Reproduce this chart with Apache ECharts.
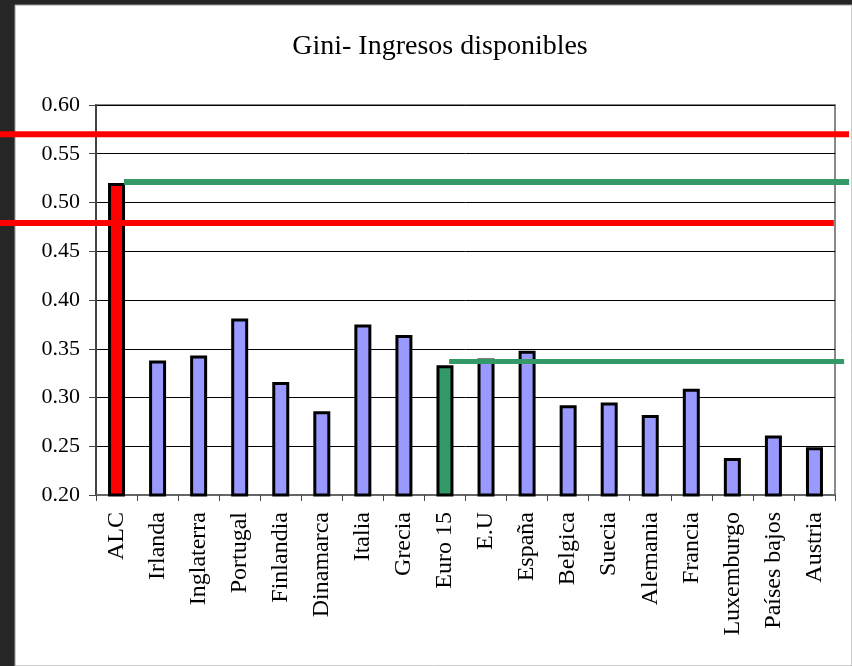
<!DOCTYPE html>
<html>
<head>
<meta charset="utf-8">
<script src="https://cdn.jsdelivr.net/npm/echarts@6/dist/echarts.min.js"></script>
<style>
html,body{margin:0;padding:0;background:#262626;}
#chart{width:852px;height:666px;}
</style>
</head>
<body>
<div id="chart"></div>
<script>
const categories = ['ALC','Irlanda','Inglaterra','Portugal','Finlandia','Dinamarca','Italia','Grecia','Euro 15','E.U','España','Belgica','Suecia','Alemania','Francia','Luxemburgo','Países bajos','Austria'];
const giniValues = [0.520,0.338,0.343,0.381,0.316,0.286,0.375,0.364,0.333,0.340,0.348,0.292,0.295,0.282,0.309,0.238,0.261,0.249];
const yTicks = {min:0.20, max:0.60, step:0.05};
// overlay reference lines: [categoryPosition, value]
const redUpper = [[-2.84,0.570],[17.84,0.570]];
const redLower = [[-2.84,0.479],[17.47,0.479]];
const greenUpper = [[0.18,0.521],[17.84,0.521]];
const greenLower = [[8.10,0.337],[17.72,0.337]];

const barColors = categories.map(c => c === 'ALC' ? '#ff0000' : (c === 'Euro 15' ? '#339966' : '#9999ff'));

const chart = echarts.init(document.getElementById('chart'));
const serif = '"Liberation Serif","Times New Roman",serif';
chart.setOption({
  backgroundColor:'#262626',
  animation:false,
  graphic:[{type:'rect', z:-10, shape:{x:15,y:5,width:837,height:661}, style:{fill:'#ffffff', stroke:'#9a9a9a', lineWidth:1}}],
  title:{text:'Gini- Ingresos disponibles', left:435, textAlign:'center', top:28,
    textStyle:{fontFamily:serif, fontSize:28, fontWeight:'normal', color:'#000'}},
  grid:[
    {left:96, right:17, top:105, bottom:171, show:true, borderColor:'#888', borderWidth:2, backgroundColor:'transparent'},
    {left:0, right:0, top:105, bottom:171, show:false}
  ],
  xAxis:[
    {type:'category', gridIndex:0, data:categories, boundaryGap:true,
     axisLine:{show:true, lineStyle:{color:'#666', width:2}},
     axisTick:{show:true, length:6, lineStyle:{color:'#444', width:1}},
     axisLabel:{rotate:90, margin:17, interval:0, fontFamily:serif, fontSize:24, color:'#000'}},
    {type:'value', gridIndex:1, min:-2.838, max:17.912, show:false}
  ],
  yAxis:[
    {type:'value', gridIndex:0, min:yTicks.min, max:yTicks.max, interval:yTicks.step,
     axisLine:{show:true, lineStyle:{color:'#444', width:2}},
     axisTick:{show:true, length:7, lineStyle:{color:'#444'}},
     axisLabel:{margin:16, fontFamily:serif, fontSize:22, color:'#000', formatter:v => v.toFixed(2)},
     splitLine:{show:true, lineStyle:{color:'#000', width:1}}},
    {type:'value', gridIndex:1, min:yTicks.min, max:yTicks.max, show:false}
  ],
  series:[
    {type:'bar', xAxisIndex:0, yAxisIndex:0, barWidth:17,
     data:giniValues.map((v,i)=>({value:v, itemStyle:{color:barColors[i]}})),
     itemStyle:{borderColor:'#000', borderWidth:3}, z:2},
    {type:'line', xAxisIndex:1, yAxisIndex:1, data:redUpper, symbol:'none', clip:false, lineStyle:{color:'#ff0000', width:6}, z:5},
    {type:'line', xAxisIndex:1, yAxisIndex:1, data:redLower, symbol:'none', clip:false, lineStyle:{color:'#ff0000', width:6}, z:5},
    {type:'line', xAxisIndex:1, yAxisIndex:1, data:greenUpper, symbol:'none', clip:false, lineStyle:{color:'#339966', width:6}, z:5},
    {type:'line', xAxisIndex:1, yAxisIndex:1, data:greenLower, symbol:'none', clip:false, lineStyle:{color:'#339966', width:5}, z:5}
  ]
});
</script>
</body>
</html>
